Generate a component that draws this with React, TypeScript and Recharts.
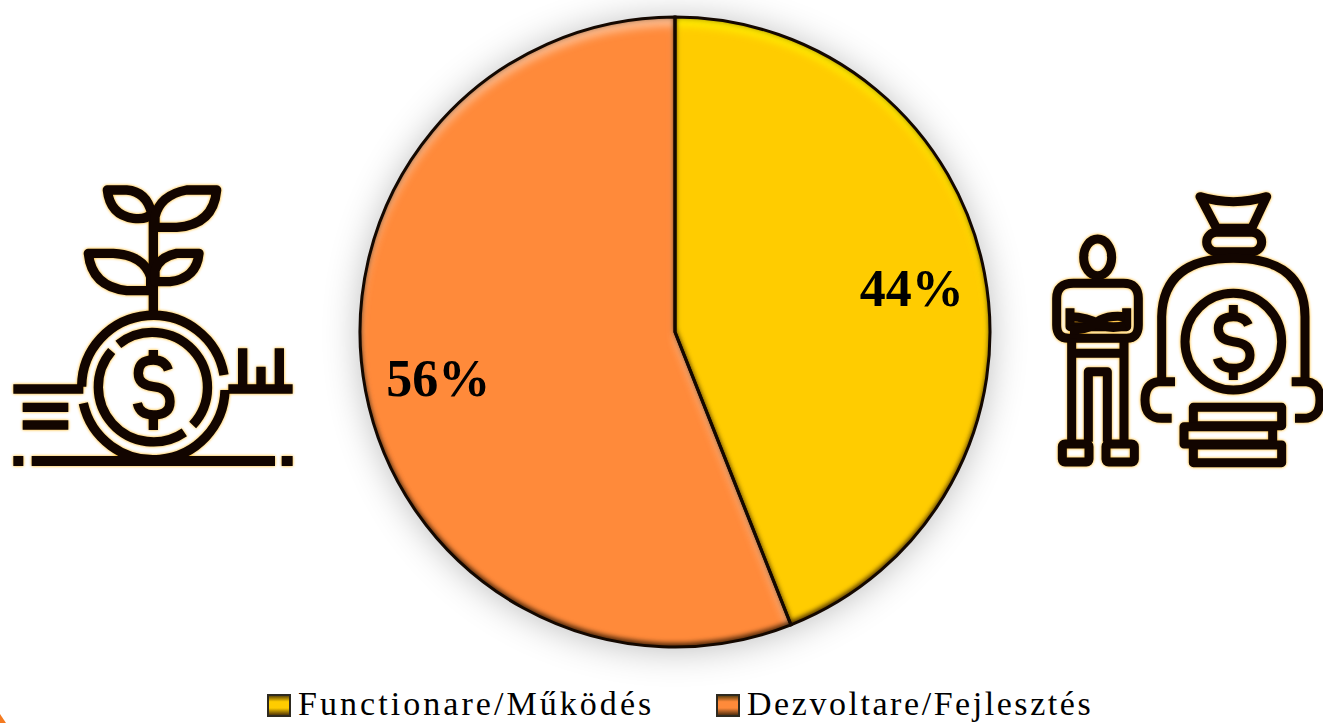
import { Cell, Legend, Pie, PieChart } from "recharts";

const categories = ["Functionare/Működés", "Dezvoltare/Fejlesztés"];
const shares = [44, 56];
const sliceColors = ["#ffcc00", "#ff8a3a"];
const sliceGlints = ["#fff000", "#ffc49a"];

const tableData = categories.map((name, i) => ({ name, value: shares[i] }));

const SERIF = '"Liberation Serif", serif';

function PctLabel(props: any) {
  const { cx, cy, midAngle, value } = props;
  const r = 241;
  const rad = (midAngle * Math.PI) / 180;
  return (
    <text
      x={cx + r * Math.cos(rad)}
      y={cy - r * Math.sin(rad) + 1.5}
      textAnchor="middle"
      dominantBaseline="central"
      fontFamily={SERIF}
      fontWeight="bold"
      fontSize={52}
      fill="#000"
    >
      {value}%
    </text>
  );
}

function LegendRow({ payload }: any) {
  // the outline pie also lands in the payload, keep the real slices only
  const items = (payload || []).filter((entry: any) => sliceColors.includes(entry.color));
  return (
    <div style={{ position: "relative", height: 34, fontFamily: SERIF }}>
      {items.map((entry: any, i: number) => (
        <div
          key={entry.value}
          style={{
            position: "absolute",
            left: i === 0 ? 267 : 716,
            top: 0,
            display: "flex",
            alignItems: "center",
            whiteSpace: "nowrap",
            fontSize: 34,
            letterSpacing: i === 0 ? 3.05 : 2.55,
            lineHeight: "34px",
            color: "#000"
          }}
        >
          <svg width={24} height={23} style={{ marginRight: 7, marginTop: 3 }}>
            <defs>
              <linearGradient id={`sw${i}`} x1="0" y1="0" x2="0" y2="1">
                <stop offset="0%" stopColor="#4a3506" />
                <stop offset="32%" stopColor={entry.color} />
                <stop offset="62%" stopColor={entry.color} />
                <stop offset="100%" stopColor="#3a2208" />
              </linearGradient>
            </defs>
            <rect x={1} y={1} width={22} height={21} fill={`url(#sw${i})`} stroke="#2e2a20" strokeWidth={2} />
          </svg>
          {entry.value}
        </div>
      ))}
    </div>
  );
}

const iconLine = {
  fill: "none",
  stroke: "#120500",
  strokeLinecap: "butt" as const,
  strokeLinejoin: "round" as const
};

function PlantIcon() {
  return (
    <svg
      width={310}
      height={310}
      viewBox="0 0 930 930"
      style={{ position: "absolute", left: 0, top: 170, filter: "drop-shadow(0 0 1.5px #ffb000)" }}
    >
      <g {...iconLine} strokeWidth={28}>
        <path d="M460 130V430" />
        <path d="M322 60H380Q440 65 455 130Q440 150 400 145Q330 135 322 60Z" />
        <path d="M650 60H560Q480 75 465 140V172H530Q640 165 650 60Z" />
        <path d="M265 250H340Q430 255 452 320V362H380Q275 350 265 250Z" />
        <path d="M597 250H530Q480 260 465 300V335H510Q590 325 597 250Z" />
        <path d="M245 650A215 215 0 0 1 672 615" />
        <path d="M250 700A215 215 0 0 0 675 660" />
        <path d="M355 523A165 165 0 0 1 578 765" />
        <path d="M553 787A165 165 0 0 1 335 543" />
        <path d="M505 600Q495 570 460 570Q415 570 415 610Q415 645 460 650Q510 655 510 695Q510 735 460 735Q420 735 412 700" />
        <path d="M460 540V570M460 735V780" />
        <path d="M40 657H250M68 712H205M68 765H205M685 657H878" />
        <path d="M728 535V650M783 590V650M838 535V650" />
        <path d="M40 873H70M95 873H825M845 873H878" strokeWidth={30} />
      </g>
    </svg>
  );
}

function BagIcon() {
  return (
    <svg
      width={293}
      height={310}
      viewBox="0 0 879 930"
      style={{ position: "absolute", left: 1030, top: 170, filter: "drop-shadow(0 0 1.5px #ffb000)" }}
    >
      <g {...iconLine} strokeWidth={27}>
        <ellipse cx={203} cy={262} rx={42} ry={55} />
        <path d="M130 340H280Q325 340 325 385V465Q325 505 290 505H115Q80 505 80 465V385Q80 340 130 340Z" />
        <path d="M120 415V470H290V415" />
        <path d="M120 440Q170 440 215 465Q250 480 285 465M120 480Q180 480 210 450Q240 435 285 440" />
        <path d="M125 505V815M282 505V815M125 550H282M175 815V605H232V815" />
        <rect x={97} y={822} width={80} height={54} rx={8} />
        <rect x={228} y={822} width={85} height={54} rx={8} />
        <path d="M510 80Q610 110 710 80L665 175H560Z" />
        <rect x={530} y={187} width={165} height={58} rx={29} />
        <path d="M395 630V440Q400 265 610 265Q825 265 825 440V630" />
        <circle cx={610} cy={515} r={145} />
        <path d="M655 465Q645 440 610 440Q565 440 565 475Q565 510 610 515Q660 520 660 555Q660 595 610 595Q570 595 562 565" />
        <path d="M610 405V440M610 595V630" />
        <path d="M435 635H385Q345 640 345 690Q345 745 395 745H425" />
        <path d="M785 635H830Q870 640 870 690Q870 745 820 745H795" />
        <rect x={490} y={712} width={265} height={55} />
        <rect x={462} y={770} width={266} height={52} />
        <rect x={490} y={825} width={265} height={53} />
      </g>
    </svg>
  );
}

const pieGeom = {
  dataKey: "value",
  nameKey: "name",
  cx: 675,
  cy: 332,
  outerRadius: 315,
  startAngle: 90,
  endAngle: -270,
  isAnimationActive: false
};

export default function App() {
  return (
    <div style={{ position: "absolute", left: 0, top: 0, width: 1323, height: 723, overflow: "hidden", background: "#fff" }}>
      {/* soft halo behind the pie */}
      <div
        style={{
          position: "absolute",
          left: 362,
          top: 19,
          width: 626,
          height: 626,
          borderRadius: "50%",
          boxShadow: "0 2px 38px rgba(0,0,0,0.3)"
        }}
      />
      <PieChart width={1323} height={723} margin={{ top: 0, right: 0, bottom: 0, left: 0 }}>
        <defs>
          {sliceGlints.map((glint, i) => (
            <filter key={glint} id={`bevel${i}`} x="-10%" y="-10%" width="120%" height="120%" colorInterpolationFilters="sRGB">
              <feOffset in="SourceAlpha" dy={-4} result="upA" />
              <feGaussianBlur in="upA" stdDeviation={2.5} result="upB" />
              <feComposite in="SourceAlpha" in2="upB" operator="out" result="bottomEdge" />
              <feFlood floodColor="#2a1200" floodOpacity={0.75} />
              <feComposite in2="bottomEdge" operator="in" result="dark" />
              <feOffset in="SourceAlpha" dy={9} result="downA" />
              <feGaussianBlur in="downA" stdDeviation={4} result="downB" />
              <feComposite in="SourceAlpha" in2="downB" operator="out" result="topEdge" />
              <feFlood floodColor={glint} floodOpacity={0.9} />
              <feComposite in2="topEdge" operator="in" result="light" />
              <feGaussianBlur in="SourceAlpha" stdDeviation={3} result="allB" />
              <feComposite in="SourceAlpha" in2="allB" operator="out" result="ringEdge" />
              <feFlood floodColor="#3a1c00" floodOpacity={0.7} />
              <feComposite in2="ringEdge" operator="in" result="ring" />
              <feMerge>
                <feMergeNode in="SourceGraphic" />
                <feMergeNode in="light" />
                <feMergeNode in="dark" />
                <feMergeNode in="ring" />
              </feMerge>
            </filter>
          ))}
        </defs>
        <Pie {...pieGeom} data={tableData} stroke="none" label={PctLabel} labelLine={false}>
          {tableData.map((d, i) => (
            <Cell key={d.name} fill={sliceColors[i]} filter={`url(#bevel${i})`} />
          ))}
        </Pie>
        {/* crisp outline on top, the bevel filter washes it out otherwise */}
        <Pie {...pieGeom} data={tableData} fill="none" stroke="#140800" strokeWidth={3} legendType="none">
          {tableData.map((d) => (
            <Cell key={d.name} fill="none" />
          ))}
        </Pie>
        <Legend
          content={<LegendRow />}
          itemSorter={null}
          wrapperStyle={{ position: "absolute", left: 0, top: 687, width: 1323, height: 34 }}
        />
      </PieChart>
      <PlantIcon />
      <BagIcon />
      <svg width={12} height={14} style={{ position: "absolute", left: 0, top: 709 }}>
        <path d="M0 5L6 14H0Z" fill="#f47a20" />
      </svg>
    </div>
  );
}
